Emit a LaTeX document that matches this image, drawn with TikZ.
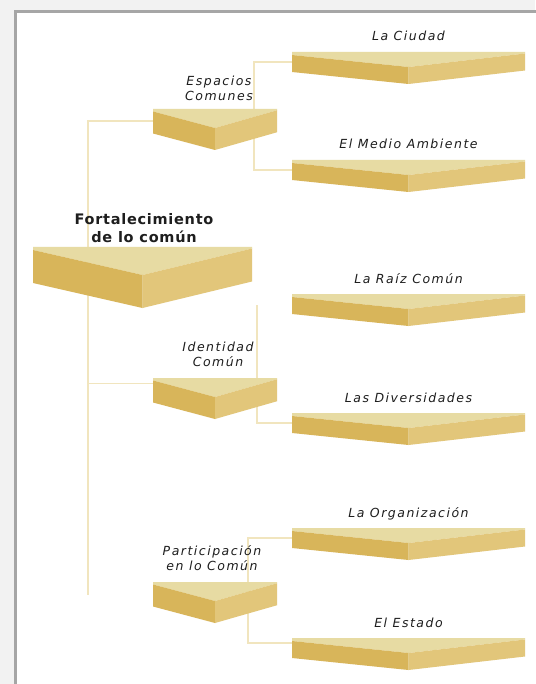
\documentclass[tikz,border=0pt]{standalone}
\usepackage{fontspec}
\newfontfamily\labfont[LetterSpace=12]{DejaVu Sans}
\newfontfamily\titlefont[LetterSpace=5]{DejaVu Sans}
\usetikzlibrary{calc}

\definecolor{slabtop}{RGB}{231,219,163}
\definecolor{slableft}{RGB}{216,181,90}
\definecolor{slabright}{RGB}{226,198,122}
\definecolor{linkcol}{RGB}{241,229,190}
\definecolor{labtext}{RGB}{30,30,30}

\begin{document}
\begin{tikzpicture}[x=1pt,y=-1pt,
  slab/.style={anchor=north west,inner sep=0pt,outer sep=0pt},
  link/.style={draw=linkcol,line width=1.5pt},
  sublab/.style={anchor=base,inner sep=0pt,text=labtext,
    font=\labfont\itshape\fontsize{12.5}{15}\selectfont},
  midlab/.style={inner sep=0pt,align=center,text=labtext,
    font=\labfont\itshape\fontsize{12.5}{15}\selectfont},
  titlelab/.style={inner sep=0pt,align=center,text=labtext,
    font=\titlefont\bfseries\fontsize{14.5}{17.5}\selectfont}]
  \useasboundingbox (0,0) rectangle (535,684);
  % frame
  \fill[gray!10] (0,0) rectangle (535,684);
  \fill[white,draw=gray!70,line width=3pt] (15.5,11.5) rectangle (560,710);

  % slabs
  \node[slab,minimum width=219pt,minimum height=36pt] (comun) at (33,247) {};
  \node[slab,minimum width=124pt,minimum height=24.5pt] (espacios) at (153,109) {};
  \node[slab,minimum width=124pt,minimum height=24.5pt] (identidad) at (153,378) {};
  \node[slab,minimum width=124pt,minimum height=24.5pt] (particip) at (153,582) {};
  \node[slab,minimum width=233pt,minimum height=20pt] (ciudad) at (292,52) {};
  \node[slab,minimum width=233pt,minimum height=20pt] (medio) at (292,160) {};
  \node[slab,minimum width=233pt,minimum height=20pt] (raiz) at (292,294) {};
  \node[slab,minimum width=233pt,minimum height=20pt] (divers) at (292,413) {};
  \node[slab,minimum width=233pt,minimum height=20pt] (organiz) at (292,528) {};
  \node[slab,minimum width=233pt,minimum height=20pt] (estado) at (292,638) {};

  % connectors
  \coordinate (trunkend) at (88,595);
  \coordinate (raizend) at (257,305);
  \draw[link] (espacios.west) -| (trunkend);
  \draw[link] ([yshift=7pt]identidad.west) -- ([yshift=7pt]identidad.west -| trunkend);
  \draw[link] (ciudad.west) -- ++(-38,0) |- (medio.west);
  \draw[link] (raizend) |- (divers.west);
  \draw[link] (organiz.west) -- ++(-44,0) |- ([yshift=5pt]estado.west);

  \foreach \n/\e/\d/\t in {comun/3/28/33,espacios/2.5/19/22,identidad/2.5/19/22,
      particip/2.5/19/22,ciudad/3/15/17,medio/3/15/17,raiz/3/15/17,
      divers/3/15/17,organiz/3/15/17,estado/3/15/17}{
    \fill[slabtop] (\n.north west) -- (\n.north east) -- ($(\n.north east)+(0,\e/2)$)
      -- ($(\n.north)+(0,\d)$) -- ($(\n.north west)+(0,\e)$) -- cycle;
    \fill[slableft] ($(\n.north west)+(0,\e)$) -- ($(\n.north)+(0,\d)$)
      -- ($(\n.north)+(0,\d+\t)$) -- ($(\n.north west)+(0,\e+\t)$) -- cycle;
    \fill[slabright] ($(\n.north)+(0,\d)$) -- ($(\n.north east)+(0,\e/2)$)
      -- ($(\n.north east)+(0,\e/2+\t)$) -- ($(\n.north)+(0,\d+\t)$) -- cycle;
  }

  % labels
  \foreach \n/\txt in {ciudad/La Ciudad,medio/El Medio Ambiente,raiz/La Raíz Común,
      divers/Las Diversidades,organiz/La Organización,estado/El Estado}
    \node[sublab] (\n-lab) at ($(\n.north)+(0,-11)$) {\txt};
  \node[midlab] (espacios-lab) at (219,88) {Espacios\\Comunes};
  \node[midlab] (identidad-lab) at (218,354) {Identidad\\Común};
  \node[midlab] (particip-lab) at (212,558) {Participación\\en lo Común};
  \node[titlelab] (comun-lab) at (144,228) {Fortalecimiento\\de lo común};
\end{tikzpicture}
\end{document}
